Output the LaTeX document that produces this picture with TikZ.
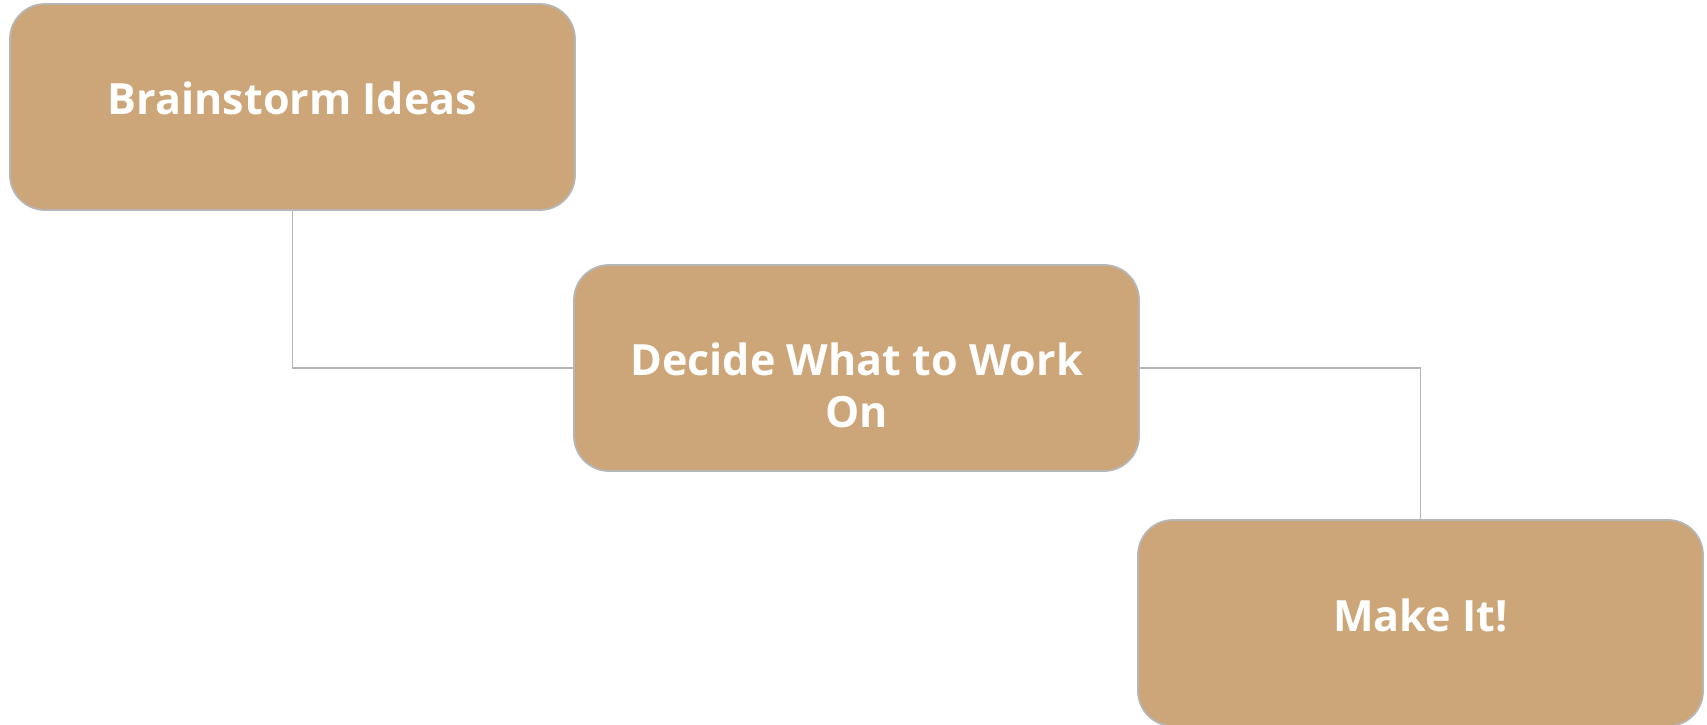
\documentclass[tikz,border=0pt]{standalone}
\usepackage{fontspec}
\setmainfont{Open Sans}
\usetikzlibrary{positioning}
\definecolor{tan}{RGB}{204,166,120}
\definecolor{edgegray}{RGB}{182,182,182}

\begin{document}
\begin{tikzpicture}[
stage/.style={draw=edgegray,line width=1pt,fill=tan,rounded corners=0.7cm,minimum width=11.3cm,minimum height=4.12cm,inner sep=0pt,outer sep=0pt,text=white,align=center,text height=0.8cm,text depth=0.48cm,font=\fontsize{24.5}{29.6}\selectfont\bfseries},
link/.style={draw=edgegray,line width=1pt}]
\useasboundingbox (0,0) rectangle (34.14,-14.5);
\node[stage,anchor=north west](brain) at (0.2,-0.08){Brainstorm Ideas};
\node[stage,below right=1.1cm and -0.02cm of brain,text height=2.88cm](decide){Decide What to Work\\On};
\node[stage,below right=0.98cm and -0.02cm of decide](make){Make It!};
\path[link] (brain.south) |- (decide.west);
\path[link] (decide.east) -| (make.north);
\end{tikzpicture}
\end{document}
